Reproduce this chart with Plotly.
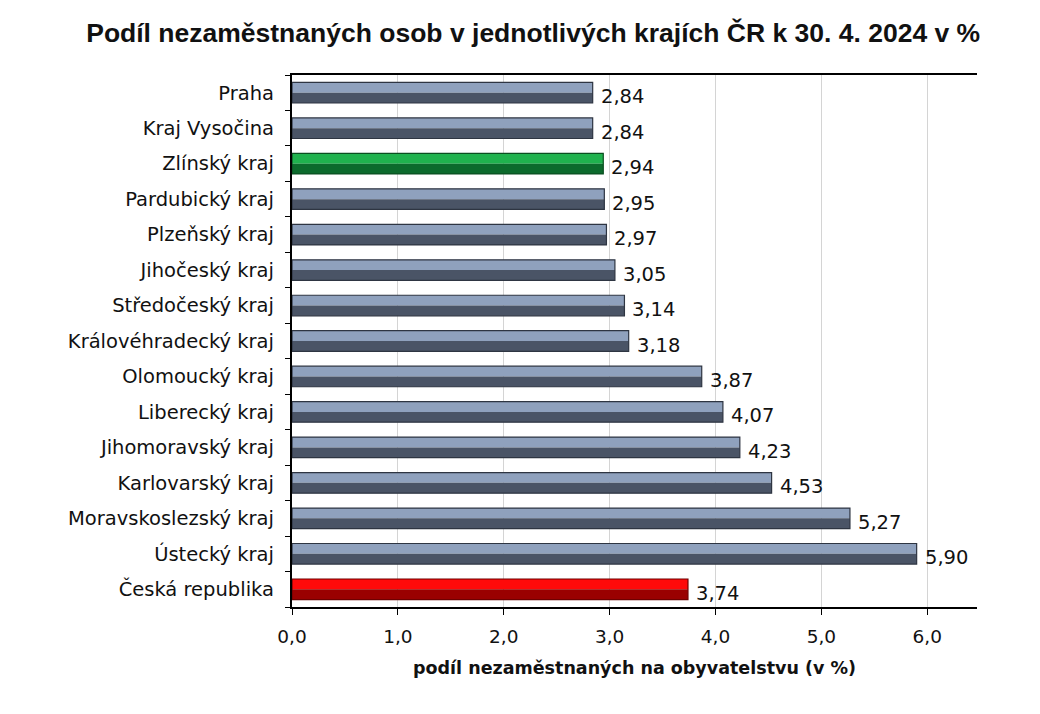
import plotly.graph_objects as go

regions = ["Praha", "Kraj Vysočina", "Zlínský kraj", "Pardubický kraj", "Plzeňský kraj",
           "Jihočeský kraj", "Středočeský kraj", "Královéhradecký kraj", "Olomoucký kraj",
           "Liberecký kraj", "Jihomoravský kraj", "Karlovarský kraj", "Moravskoslezský kraj",
           "Ústecký kraj", "Česká republika"]
values = [2.84, 2.84, 2.94, 2.95, 2.97, 3.05, 3.14, 3.18, 3.87, 4.07, 4.23, 4.53, 5.27, 5.90, 3.74]
x_ticks = [0, 1, 2, 3, 4, 5, 6]

title = "Podíl nezaměstnaných osob v jednotlivých krajích ČR k 30. 4. 2024 v %"
x_title = "podíl nezaměstnaných na obyvatelstvu (v %)"

def colors_for(name):
    if name == "Zlínský kraj":
        return "#20B24E", "#0C6A2C", "#0A4F20"
    if name == "Česká republika":
        return "#FF0A0A", "#9A0000", "#6E0000"
    return "#8FA1BD", "#4A5466", "#2E3542"

top_cols = [colors_for(r)[0] for r in regions]
bot_cols = [colors_for(r)[1] for r in regions]
edge_cols = [colors_for(r)[2] for r in regions]

half = 0.29
fig = go.Figure()
fig.add_trace(go.Bar(y=regions, x=values, orientation="h", base=0,
                     offset=0, width=half, marker=dict(color=top_cols, line=dict(width=0)),
                     hoverinfo="skip", showlegend=False))
fig.add_trace(go.Bar(y=regions, x=values, orientation="h", base=0,
                     offset=-half, width=half, marker=dict(color=bot_cols, line=dict(width=0)),
                     hoverinfo="skip", showlegend=False))
fig.add_trace(go.Bar(y=regions, x=values, orientation="h", base=0,
                     offset=-half, width=2 * half,
                     marker=dict(color="rgba(0,0,0,0)", line=dict(color=edge_cols, width=1.2)),
                     hoverinfo="skip", showlegend=False))

for r, v in zip(regions, values):
    fig.add_annotation(x=v, y=r, text=f"{v:.2f}".replace(".", ","), showarrow=False,
                       xanchor="left", xshift=6, yshift=-4,
                       font=dict(family="DejaVu Sans", size=19.5, color="#111111"))

fig.update_layout(
    width=1040, height=714,
    barmode="overlay",
    separators=", ",
    paper_bgcolor="white", plot_bgcolor="white",
    margin=dict(l=284, r=71, t=67, b=115),
    title=dict(text=title, x=0.505, xanchor="center", y=0.965, yanchor="middle",
               font=dict(family="Liberation Sans", size=26.5, color="#111111", weight="bold")),
    xaxis=dict(range=[0, 6.47], tickvals=x_ticks, tickformat=".1f",
               showgrid=True, gridcolor="#D4D4D4", gridwidth=1,
               showline=True, linecolor="black", linewidth=1.5, mirror=True,
               ticks="outside", ticklen=6, tickcolor="black", ticklabelstandoff=6,
               tickfont=dict(family="DejaVu Sans", size=18.5, color="#111111"),
               zeroline=False, automargin=False,
               title=dict(text=x_title, standoff=16,
                          font=dict(family="DejaVu Sans", size=17.5, color="#111111", weight="bold"))),
    yaxis=dict(categoryorder="array", categoryarray=list(reversed(regions)),
               range=[-0.5, len(regions) - 0.5],
               showline=True, linecolor="black", linewidth=1.5,
               ticks="outside", ticklen=5, tickcolor="black", tickson="boundaries",
               showgrid=False, automargin=False,
               tickfont=dict(family="DejaVu Sans", size=19.5, color="#111111"),
               ticksuffix="  "),
)

fig.write_html("out.html")
